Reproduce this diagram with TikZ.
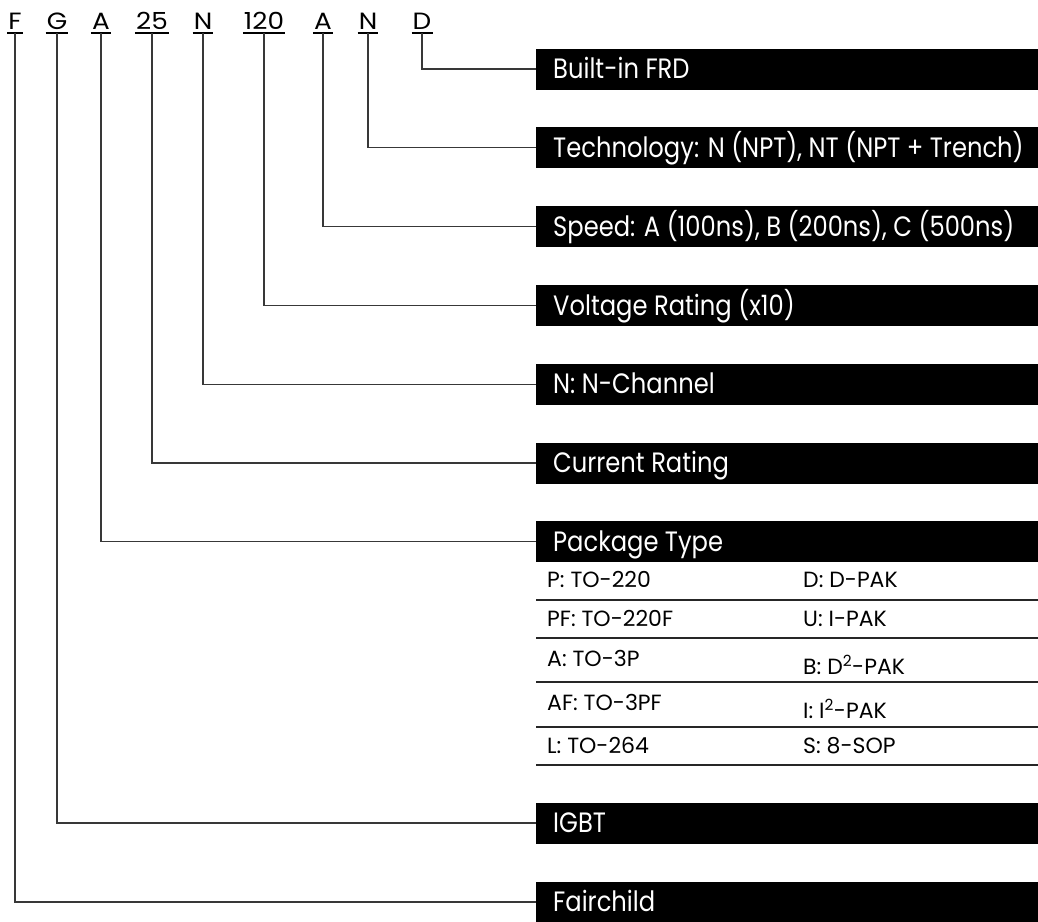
\documentclass[tikz,border=0pt]{standalone}
\usepackage{fontspec}
\setmainfont{Poppins}
\newfontfamily\hdrfont{Poppins}[FakeStretch=0.865]
\newfontfamily\codefont{Poppins}[FakeStretch=1.12]
\newcommand\bartext[1]{\hspace*{17pt}\makebox[485pt][l]{#1}}
\begin{document}
\begin{tikzpicture}[x=1pt,y=-1pt,
  conn/.style={draw=black!78, line width=1.25pt},
  uline/.style={draw=black, line width=1.7pt},
  bar/.style={anchor=west, fill=black, text=white, minimum height=41pt,
    inner xsep=0pt, inner ysep=0pt, text height=19.5pt, text depth=0pt,
    font=\hdrfont\fontsize{28}{31}\selectfont},
  code/.style={anchor=base, inner sep=0pt, font=\codefont\fontsize{23.5}{26}\selectfont},
  cell/.style={anchor=base west, inner sep=0pt, font=\fontsize{22}{26}\selectfont},
  trule/.style={line width=1.3pt, draw=black!85}
]
\useasboundingbox (0,0) rectangle (1038,921);

% bars
\node[bar] (frd)   at (536,69)    {\bartext{Built-in FRD}};
\node[bar] (tech)  at (536,147.8) {\bartext{Technology: N (NPT), NT (NPT + Trench)}};
\node[bar] (speed) at (536,226.6) {\bartext{Speed: A (100ns), B (200ns), C (500ns)}};
\node[bar] (volt)  at (536,305.4) {\bartext{Voltage Rating (x10)}};
\node[bar] (chan)  at (536,384.2) {\bartext{N: N-Channel}};
\node[bar] (cur)   at (536,463)   {\bartext{Current Rating}};
\node[bar] (pkg)   at (536,541.8) {\bartext{Package Type}};
\node[bar] (igbt)  at (536,823)   {\bartext{IGBT}};
\node[bar] (fc)    at (536,902)   {\bartext{Fairchild}};

% part number letters
\node[code] (cF)  at (15,29)  {F};
\node[code] (cG)  at (57,29)  {G};
\node[code] (cA1) at (101,29) {A};
\node[code] (c25) at (152,29) {25};
\node[code] (cN1) at (203,29) {N};
\node[code] (c120) at (264,29) {120};
\node[code] (cA2) at (323,29) {A};
\node[code] (cN2) at (368,29) {N};
\node[code] (cD)  at (422,29) {D};

\foreach \n in {cF,cG,cA1,c25,cN1,c120,cA2,cN2,cD}
  \draw[uline] ([yshift=-4pt,xshift=-1pt]\n.base west) -- ([yshift=-4pt,xshift=1pt]\n.base east);

% connectors
\draw[conn] ([yshift=-4pt]cD.base)   |- (frd.west);
\draw[conn] ([yshift=-4pt]cN2.base)  |- (tech.west);
\draw[conn] ([yshift=-4pt]cA2.base)  |- (speed.west);
\draw[conn] ([yshift=-4pt]c120.base) |- (volt.west);
\draw[conn] ([yshift=-4pt]cN1.base)  |- (chan.west);
\draw[conn] ([yshift=-4pt]c25.base)  |- (cur.west);
\draw[conn] ([yshift=-4pt]cA1.base)  |- (pkg.west);
\draw[conn] ([yshift=-4pt]cG.base)   |- (igbt.west);
\draw[conn] ([yshift=-4pt]cF.base)   |- (fc.west);

% package table
\foreach \y in {600,638,682,727,765}
  \draw[trule] (536,\y) -- (1038,\y);
\node[cell] (t1)  at (547,587) {P: TO-220};
\node[cell] (t2)  at (803,587) {D: D-PAK};
\node[cell] (t3)  at (547,626) {PF: TO-220F};
\node[cell] (t4)  at (803,626) {U: I-PAK};
\node[cell] (t5)  at (547,666) {A: TO-3P};
\node[cell] (t6)  at (803,674) {B: D\textsuperscript{2}-PAK};
\node[cell] (t7)  at (547,710) {AF: TO-3PF};
\node[cell] (t8)  at (803,718) {I: I\textsuperscript{2}-PAK};
\node[cell] (t9)  at (547,753) {L: TO-264};
\node[cell] (t10) at (803,753) {S: 8-SOP};
\end{tikzpicture}
\end{document}
